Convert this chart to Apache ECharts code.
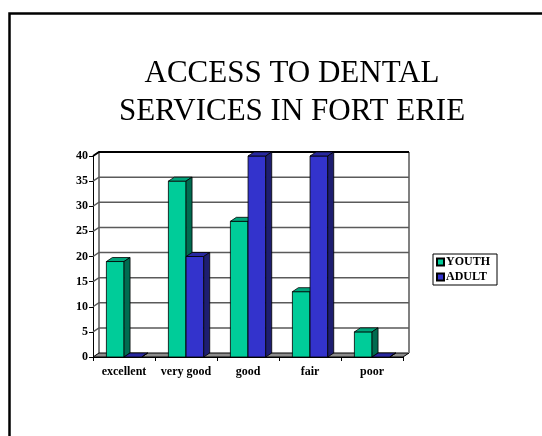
<!DOCTYPE html>
<html>
<head>
<meta charset="utf-8">
<script src="https://cdn.jsdelivr.net/npm/echarts@6/dist/echarts.min.js"></script>
<style>
  html, body { margin: 0; padding: 0; background: #fff; }
  #chart { width: 542px; height: 436px; }
</style>
</head>
<body>
<div id="chart"></div>
<script>
// Survey ratings of dental-service access, by age group
const categories = ['excellent', 'very good', 'good', 'fair', 'poor'];
const youth = [19, 35, 27, 13, 5];
const adult = [0, 20, 40, 40, 0];
const yTicks = [0, 5, 10, 15, 20, 25, 30, 35, 40];

// depth offset of the pseudo-3D box
const DX = 6, DY = -4;
const FONT = '"Liberation Serif", "Times New Roman", serif';

function bandEdges(api, v) {
  const first = api.coord([0, v]);
  const last = api.coord([categories.length - 1, v]);
  const bw = api.size([1, 0])[0];
  return { left: first[0] - bw / 2, right: last[0] + bw / 2, y: first[1] };
}

// back wall gridlines, side-wall links and the floor
function wallRenderer(params, api) {
  const v = api.value(0);
  const e = bandEdges(api, v);
  const children = [];
  if (v === 0) {
    children.push({
      type: 'polygon',
      shape: { points: [[e.left, e.y], [e.left + DX, e.y + DY], [e.right + DX, e.y + DY], [e.right, e.y]] },
      style: { fill: '#8c8c8c', stroke: '#000', lineWidth: 1 }
    });
    const top = bandEdges(api, yTicks[yTicks.length - 1]);
    children.push({
      type: 'polyline',
      shape: { points: [[e.left + DX, e.y + DY], [e.left + DX, top.y + DY]] },
      style: { stroke: '#000', lineWidth: 1, fill: null }
    });
    children.push({
      type: 'polyline',
      shape: { points: [[e.right + DX, e.y + DY], [e.right + DX, top.y + DY]] },
      style: { stroke: '#808080', lineWidth: 2, fill: null }
    });
  } else {
    const isTop = v === yTicks[yTicks.length - 1];
    children.push({
      type: 'polyline',
      shape: { points: [[e.left, e.y], [e.left + DX, e.y + DY], [e.right + DX, e.y + DY]] },
      style: { stroke: isTop ? '#000' : '#5a5a5a', lineWidth: isTop ? 2 : 1.5, fill: null }
    });
  }
  return { type: 'group', children: children };
}

function barRenderer(slot, front, topC, side) {
  return function (params, api) {
    const cat = api.value(0), val = api.value(1);
    const base = api.coord([cat, 0]);
    const top = api.coord([cat, val]);
    const bw = api.size([1, 0])[0];
    const catLeft = base[0] - bw / 2;
    const w = bw * 0.285;
    const x0 = catLeft + bw * 0.216 + slot * w;
    const x1 = x0 + w;
    const yT = top[1], yB = base[1];
    const st = { stroke: '#000', lineWidth: 0.8 };
    return {
      type: 'group',
      children: [
        { type: 'rect', shape: { x: x0, y: yT, width: w, height: yB - yT }, style: Object.assign({ fill: front }, st) },
        { type: 'polygon', shape: { points: [[x0, yT], [x0 + DX, yT + DY], [x1 + DX, yT + DY], [x1, yT]] }, style: Object.assign({ fill: topC }, st) },
        { type: 'polygon', shape: { points: [[x1, yT], [x1 + DX, yT + DY], [x1 + DX, yB + DY], [x1, yB]] }, style: Object.assign({ fill: side }, st) }
      ]
    };
  };
}

const chart = echarts.init(document.getElementById('chart'));
chart.setOption({
  animation: false,
  backgroundColor: '#fff',
  graphic: [{
    type: 'rect', left: 7, top: 11, z: 100,
    shape: { x: 0, y: 0, width: 600, height: 600 },
    style: { fill: null, stroke: '#000', lineWidth: 2.5 }
  }],
  title: {
    text: 'ACCESS TO DENTAL\nSERVICES IN FORT ERIE',
    left: 287, top: 50, textAlign: 'center',
    textStyle: { fontFamily: FONT, fontSize: 31, fontWeight: 'normal', color: '#000', lineHeight: 38 }
  },
  legend: {
    orient: 'vertical', left: 433, top: 254,
    padding: [2, 7, 2, 3], itemGap: 3,
    itemWidth: 7, itemHeight: 7, icon: 'rect',
    borderColor: '#000', borderWidth: 1,
    data: ['YOUTH', 'ADULT'],
    textStyle: { fontFamily: FONT, fontSize: 12, fontWeight: 'bold', color: '#000', padding: [0, 0, 0, -3] }
  },
  grid: { left: 93, right: 139, top: 156, bottom: 79 },
  xAxis: {
    type: 'category', data: categories,
    axisLine: { lineStyle: { color: '#000', width: 1 } },
    axisTick: { show: true, length: 4, lineStyle: { color: '#000' } },
    axisLabel: { interval: 0, fontFamily: FONT, fontSize: 12, fontWeight: 'bold', color: '#000', margin: 9 },
    splitLine: { show: false }
  },
  yAxis: {
    type: 'value', min: 0, max: 40, interval: 5,
    axisLine: { show: true, lineStyle: { color: '#000', width: 1 } },
    axisTick: { show: true, length: 4, lineStyle: { color: '#000' } },
    axisLabel: { fontFamily: FONT, fontSize: 12, fontWeight: 'bold', color: '#000', margin: 5 },
    splitLine: { show: false }
  },
  series: [
    {
      type: 'custom', name: 'walls', z: 1, silent: true,
      data: yTicks.map(v => [v]),
      encode: { y: 0 },
      renderItem: wallRenderer
    },
    {
      type: 'custom', name: 'YOUTH', z: 2,
      itemStyle: { color: '#00CC99', borderColor: '#000', borderWidth: 1 },
      data: youth.map((v, i) => [i, v]),
      encode: { x: 0, y: 1 },
      renderItem: barRenderer(0, '#00CC99', '#00A47B', '#006B50')
    },
    {
      type: 'custom', name: 'ADULT', z: 3,
      itemStyle: { color: '#3333CC', borderColor: '#000', borderWidth: 1 },
      data: adult.map((v, i) => [i, v]),
      encode: { x: 0, y: 1 },
      renderItem: barRenderer(1, '#3333CC', '#2828A0', '#1E1E70')
    }
  ]
});
</script>
</body>
</html>
